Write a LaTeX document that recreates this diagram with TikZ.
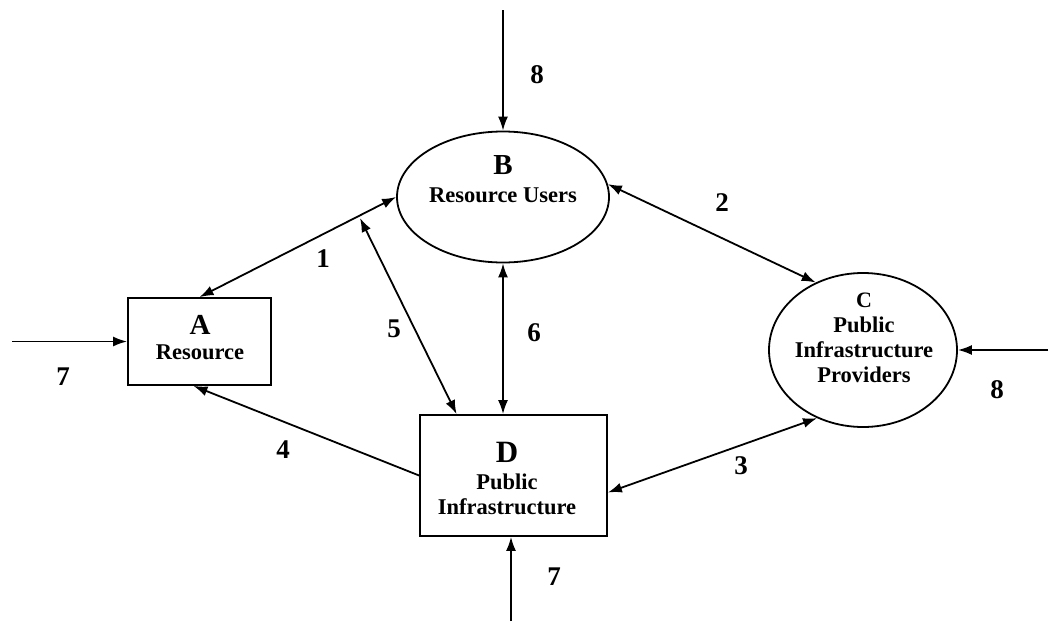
\documentclass[tikz,border=0pt]{standalone}
\usepackage{fontspec}
\setmainfont{Liberation Serif}
\usetikzlibrary{arrows.meta,shapes.geometric}
\tikzset{
  conn/.style={line width=1.8pt,-{Latex[length=14pt,width=10pt]}},
  dconn/.style={line width=1.8pt,{Latex[length=14pt,width=10pt]}-{Latex[length=14pt,width=10pt]}},
  boxnode/.style={draw,line width=1.8pt,rectangle,inner sep=0pt},
  ellnode/.style={draw,line width=1.8pt,ellipse,inner sep=0pt},
  bigletter/.style={font=\fontsize{29}{30}\selectfont\bfseries},
  bodytext/.style={font=\fontsize{22.5}{25}\selectfont\bfseries,align=center,inner sep=0pt},
  num/.style={font=\fontsize{27}{28}\selectfont\bfseries,inner sep=0pt}
}
\begin{document}
\begin{tikzpicture}[x=1pt,y=-1pt]
\useasboundingbox[fill=white] (0,0) rectangle (1049,621);
% shapes
\node[boxnode,minimum width=143pt,minimum height=87pt] (A) at (199.5,341.5) {};
\node[ellnode,minimum width=212pt,minimum height=131pt] (B) at (503,197) {};
\node[ellnode,minimum width=188pt,minimum height=154pt] (C) at (863,350) {};
\node[boxnode,minimum width=187pt,minimum height=121pt] (D) at (513.5,475.5) {};
% texts
\node[bigletter] (Al) at (200,325) {A};
\node[bodytext] (At) at (200,352) {Resource};
\node[bigletter] (Bl) at (503,165) {B};
\node[bodytext] (Bt) at (503,195) {Resource Users};
\node[font=\fontsize{22}{25}\selectfont\bfseries] (Cl) at (864,300) {C};
\node[bodytext] (Ct) at (864,350) {Public\\Infrastructure\\Providers};
\node[font=\fontsize{31}{32}\selectfont\bfseries] (Dl) at (507,452) {D};
\node[bodytext] (Dt) at (507,494.5) {Public\\Infrastructure};
% free ends
\coordinate (t8) at (503,10);
\coordinate (l7) at (12,341.5);
\coordinate (r8) at (1048,350);
\coordinate (b7) at (511,621);
\coordinate (p5) at (360,218);
% connectors
\draw[conn] (t8) -- (B.north);
\draw[dconn] (A.north) -- (B.west);
\draw[dconn] (p5) -- ([xshift=37.5pt]D.north west);
\draw[dconn] (B.south) -- ([xshift=-10.5pt]D.north);
\draw[dconn] (B.7) -- (C.125);
\draw[dconn] ([yshift=-17pt]D.east) -- (C.236);
\draw[conn] (D.west) -- ([xshift=-6pt]A.south);
\draw[conn] (l7) -- (A.west);
\draw[conn] (r8) -- (C.east);
\draw[conn] (b7) -- ([xshift=-2.5pt]D.south);
% labels
\node[num] (n8a) at (537,75) {8};
\node[num] (n1) at (323,259) {1};
\node[num] (n2) at (722,203) {2};
\node[num] (n3) at (741,466) {3};
\node[num] (n4) at (283,450) {4};
\node[num] (n5) at (394,329) {5};
\node[num] (n6) at (534,333) {6};
\node[num] (n7a) at (63,377) {7};
\node[num] (n8b) at (997,390) {8};
\node[num] (n7b) at (554,577) {7};
\end{tikzpicture}
\end{document}
